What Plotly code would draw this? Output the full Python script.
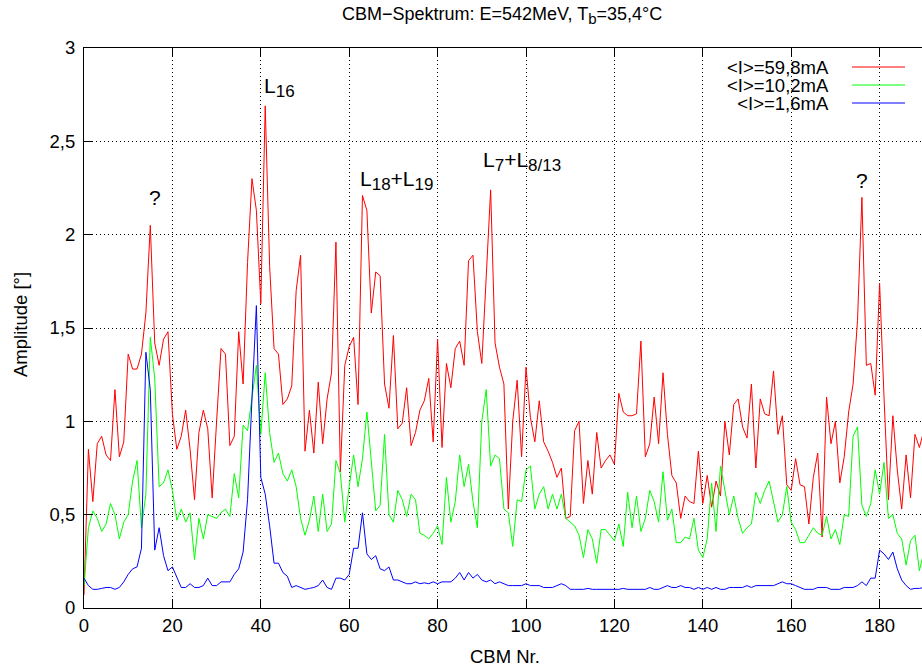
import plotly.graph_objects as go

# ---------------- data ----------------
cbm_nr = list(range(0, 191))

amp_59_8mA = [
    0.07, 0.85, 0.57, 0.88, 0.92, 0.82, 0.79, 1.17, 0.81, 0.89,
    1.36, 1.28, 1.28, 1.36, 1.58, 2.05, 1.42, 1.30, 1.44, 1.48,
    1.04, 0.85, 0.92, 1.06, 0.85, 0.58, 0.94, 1.06, 0.96, 0.59,
    1.00, 1.39, 1.36, 0.87, 0.92, 1.48, 1.20, 1.85, 2.30, 2.13,
    1.63, 2.69, 1.83, 1.39, 1.36, 1.09, 1.12, 1.19, 1.70, 1.89,
    0.84, 1.06, 0.83, 1.21, 0.88, 1.12, 1.26, 1.96, 0.73, 1.30,
    1.40, 1.45, 1.09, 2.21, 2.13, 1.58, 1.80, 1.78, 1.20, 1.07,
    1.46, 0.96, 0.99, 1.18, 0.87, 0.94, 1.06, 1.11, 1.23, 0.89,
    1.44, 0.86, 1.31, 1.18, 1.39, 1.43, 1.30, 1.86, 1.89, 1.48,
    1.31, 1.75, 2.24, 1.42, 1.29, 1.20, 0.53, 1.00, 1.22, 0.81,
    1.29, 1.02, 0.89, 1.11, 0.89, 0.84, 0.78, 0.70, 0.75, 0.48,
    0.49, 0.95, 1.00, 0.56, 0.79, 0.61, 0.94, 0.75, 0.79, 0.82,
    0.77, 1.15, 1.05, 1.03, 1.03, 1.04, 1.43, 0.81, 0.88, 1.13,
    0.88, 1.26, 0.93, 0.71, 0.67, 0.48, 0.60, 0.57, 0.56, 0.84,
    0.56, 0.71, 0.54, 0.68, 0.60, 1.00, 0.82, 1.09, 1.12, 0.97,
    0.91, 1.20, 0.75, 1.12, 1.04, 1.03, 1.27, 0.93, 1.03, 0.66,
    0.63, 0.80, 0.66, 0.65, 0.45, 0.70, 0.83, 0.38, 1.13, 0.88,
    1.00, 0.67, 0.81, 1.05, 1.20, 1.54, 2.20, 1.30, 1.31, 1.14,
    1.74, 1.13, 0.58, 1.03, 0.74, 0.53, 0.82, 0.59, 0.93, 0.86,
    0.95,
]

amp_10_2mA = [
    0.12, 0.43, 0.52, 0.48, 0.41, 0.45, 0.56, 0.50, 0.37, 0.46,
    0.50, 0.68, 0.79, 0.43, 0.61, 1.45, 1.23, 0.65, 0.67, 0.74,
    0.63, 0.47, 0.53, 0.46, 0.51, 0.26, 0.48, 0.37, 0.50, 0.49,
    0.48, 0.51, 0.53, 0.49, 0.72, 0.59, 0.98, 0.95, 1.14, 1.30,
    0.93, 1.26, 0.94, 0.78, 0.83, 0.72, 0.68, 0.74, 0.65, 0.48,
    0.39, 0.47, 0.60, 0.41, 0.61, 0.41, 0.45, 0.79, 0.72, 0.46,
    0.65, 0.82, 0.65, 0.80, 1.05, 0.78, 0.52, 0.55, 0.93, 0.50,
    0.46, 0.63, 0.58, 0.49, 0.61, 0.58, 0.40, 0.39, 0.37, 0.40,
    0.44, 0.34, 0.70, 0.46, 0.57, 0.82, 0.65, 0.77, 0.57, 0.43,
    1.00, 1.17, 0.76, 0.82, 0.80, 0.53, 0.51, 0.33, 0.58, 0.57,
    0.74, 0.76, 0.53, 0.61, 0.65, 0.53, 0.61, 0.53, 0.61, 0.48,
    0.46, 0.44, 0.39, 0.27, 0.42, 0.37, 0.24, 0.42, 0.42, 0.39,
    0.36, 0.45, 0.33, 0.62, 0.43, 0.60, 0.41, 0.48, 0.63, 0.57,
    0.46, 0.73, 0.47, 0.53, 0.35, 0.35, 0.38, 0.37, 0.48, 0.31,
    0.27, 0.37, 0.67, 0.41, 0.76, 0.63, 0.50, 0.60, 0.48, 0.40,
    0.43, 0.45, 0.62, 0.56, 0.63, 0.68, 0.57, 0.46, 0.50, 0.65,
    0.46, 0.42, 0.35, 0.35, 0.39, 0.43, 0.40, 0.39, 0.49, 0.37,
    0.42, 0.34, 0.50, 0.49, 0.92, 0.97, 0.55, 0.49, 0.56, 0.74,
    0.61, 0.78, 0.48, 0.50, 0.40, 0.37, 0.23, 0.36, 0.39, 0.20,
    0.30,
]

amp_1_6mA = [
    0.16, 0.12, 0.10, 0.10, 0.105, 0.11, 0.11, 0.10, 0.11, 0.14,
    0.18, 0.21, 0.22, 0.32, 1.37, 1.17, 0.31, 0.43, 0.28, 0.20,
    0.22, 0.16, 0.11, 0.11, 0.13, 0.11, 0.11, 0.12, 0.16, 0.12,
    0.12, 0.14, 0.14, 0.14, 0.18, 0.21, 0.30, 0.58, 1.12, 1.62,
    0.70, 0.61, 0.44, 0.24, 0.24, 0.19, 0.17, 0.11, 0.12, 0.11,
    0.10, 0.105, 0.11, 0.12, 0.15, 0.11, 0.10, 0.16, 0.16, 0.15,
    0.18, 0.32, 0.32, 0.51, 0.29, 0.26, 0.28, 0.21, 0.20, 0.22,
    0.15, 0.15, 0.14, 0.13, 0.13, 0.14, 0.13, 0.135, 0.13, 0.14,
    0.13, 0.14, 0.14, 0.14, 0.16, 0.19, 0.15, 0.19, 0.16, 0.18,
    0.15, 0.14, 0.15, 0.13, 0.14, 0.13, 0.12, 0.12, 0.12, 0.12,
    0.13, 0.12, 0.12, 0.12, 0.11, 0.11, 0.11, 0.12, 0.13, 0.12,
    0.10, 0.10, 0.10, 0.10, 0.105, 0.10, 0.10, 0.10, 0.10, 0.10,
    0.10, 0.10, 0.105, 0.10, 0.10, 0.10, 0.10, 0.10, 0.11, 0.10,
    0.10, 0.11, 0.12, 0.11, 0.11, 0.12, 0.11, 0.11, 0.10, 0.11,
    0.10, 0.11, 0.10, 0.11, 0.10, 0.10, 0.11, 0.11, 0.11, 0.11,
    0.12, 0.11, 0.12, 0.12, 0.12, 0.12, 0.12, 0.13, 0.14, 0.13,
    0.13, 0.12, 0.11, 0.10, 0.10, 0.10, 0.11, 0.11, 0.11, 0.10,
    0.10, 0.10, 0.11, 0.11, 0.11, 0.12, 0.14, 0.12, 0.16, 0.16,
    0.31, 0.29, 0.26, 0.30, 0.21, 0.15, 0.12, 0.10, 0.105, 0.105,
    0.11,
]

series_names = ["&lt;I&gt;=59,8mA", "&lt;I&gt;=10,2mA", "&lt;I&gt;=1,6mA"]
series_colors = ["#ff0000", "#00ff00", "#0000ff"]

x_ticks = [0, 20, 40, 60, 80, 100, 120, 140, 160, 180]
y_ticks = [0, 0.5, 1, 1.5, 2, 2.5, 3]
y_tick_labels = ["0", "0,5", "1", "1,5", "2", "2,5", "3"]


def sub(t, size=17):
    return '<sub><span style="font-size:%dpx">%s</span></sub>' % (size, t)


peak_labels = ["?", "L" + sub("16"), "L" + sub("18") + "+L" + sub("19"),
               "L" + sub("7") + "+L" + sub("8/13"), "?"]
peak_x = [16.1, 40.2, 61.9, 89.9, 176.0]
peak_y = [2.20, 2.79, 2.29, 2.39, 2.29]
peak_anchor = ["center", "left", "left", "left", "center"]

# ---------------- layout geometry ----------------
W, H = 922, 666
L, R, T, B = 84, 0, 48, 58
PW, PH = W - L - R, H - T - B


def px2paper_x(px):
    return (px - L) / PW


def px2paper_y(py):
    return (H - B - py) / PH


FONT = "Liberation Sans, Arial, Helvetica, sans-serif"
FS = 18.5

fig = go.Figure()
for ys, name, col in zip([amp_59_8mA, amp_10_2mA, amp_1_6mA], series_names, series_colors):
    fig.add_trace(go.Scatter(x=cbm_nr, y=ys, mode="lines", name=name,
                             line=dict(color=col, width=1), showlegend=False))

annotations = []
for txt, xx, yy, anc in zip(peak_labels, peak_x, peak_y, peak_anchor):
    annotations.append(dict(x=xx, y=yy, xref="x", yref="y", text=txt, showarrow=False,
                            xanchor=anc, yanchor="middle",
                            font=dict(family=FONT, size=21, color="black")))

# legend (gnuplot style: right-aligned text block, then sample lines)
legend_rows = [67, 85, 103]
legend_text = "<br>".join('<span style="font-size:18.5px">%s</span>' % n for n in series_names)
annotations.append(dict(x=px2paper_x(831), y=px2paper_y(sum(legend_rows) / 3.0),
                        xref="paper", yref="paper", text=legend_text, align="right",
                        showarrow=False, xanchor="right", yanchor="middle",
                        font=dict(family=FONT, size=13.8, color="black")))
shapes = []
for col, ry in zip(series_colors, legend_rows):
    shapes.append(dict(type="line", xref="paper", yref="paper",
                       x0=px2paper_x(852), x1=px2paper_x(905),
                       y0=px2paper_y(ry), y1=px2paper_y(ry),
                       line=dict(color=col, width=1)))

# axis titles
annotations.append(dict(x=px2paper_x(505), y=px2paper_y(656), xref="paper", yref="paper",
                        text="CBM Nr.", showarrow=False, xanchor="center", yanchor="middle",
                        font=dict(family=FONT, size=FS, color="black")))
annotations.append(dict(x=px2paper_x(20), y=px2paper_y(325), xref="paper", yref="paper",
                        text="Amplitude [°]", showarrow=False, xanchor="center",
                        yanchor="middle", textangle=-90,
                        font=dict(family=FONT, size=FS, color="black")))
# title
annotations.append(dict(x=px2paper_x(502), y=px2paper_y(16), xref="paper", yref="paper",
                        text="CBM−Spektrum: E=542MeV, T" + sub("b", 15) + "=35,4°C",
                        showarrow=False, xanchor="center", yanchor="middle",
                        font=dict(family=FONT, size=18, color="black")))

fig.update_layout(
    width=W, height=H,
    margin=dict(l=L, r=R, t=T, b=B, pad=0),
    paper_bgcolor="white", plot_bgcolor="white",
    annotations=annotations, shapes=shapes,
    font=dict(family=FONT, size=FS, color="black"),
)
fig.update_xaxes(range=[0, PW / 4.42], tickmode="array", tickvals=x_ticks,
                 ticks="inside", ticklen=9, tickcolor="black", tickwidth=1,
                 showline=True, linecolor="black", linewidth=1, mirror="ticks",
                 showgrid=True, gridcolor="black", griddash="1px,3px", gridwidth=1,
                 zeroline=False, ticklabelstandoff=1,
                 tickfont=dict(family=FONT, size=FS, color="black"))
fig.update_yaxes(range=[0, 3], tickmode="array", tickvals=y_ticks, ticktext=y_tick_labels,
                 ticks="inside", ticklen=9, tickcolor="black", tickwidth=1,
                 showline=True, linecolor="black", linewidth=1, mirror=False,
                 showgrid=True, gridcolor="black", griddash="1px,3px", gridwidth=1,
                 zeroline=False, ticklabelstandoff=4,
                 tickfont=dict(family=FONT, size=FS, color="black"))

fig.write_html("out.html")
